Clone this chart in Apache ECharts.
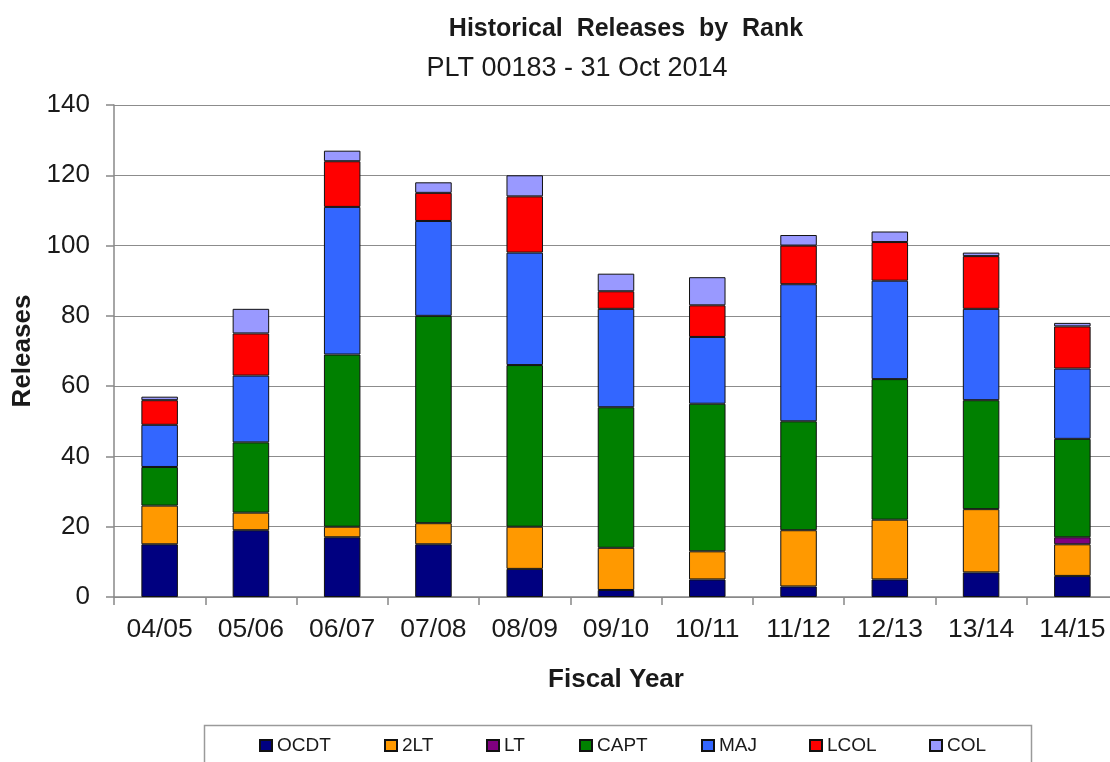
<!DOCTYPE html>
<html>
<head>
<meta charset="utf-8">
<title>Historical Releases by Rank</title>
<script src="https://cdn.jsdelivr.net/npm/echarts@6/dist/echarts.min.js"></script>
<style>
  html, body { margin: 0; padding: 0; background: #fff; }
  #chart { width: 1110px; height: 762px; }
</style>
</head>
<body>
<div id="chart"></div>
<script>
// Fiscal years on the category axis
const years = ['04/05', '05/06', '06/07', '07/08', '08/09', '09/10', '10/11', '11/12', '12/13', '13/14', '14/15'];

// Releases per rank, stacked bottom to top
const ocdt = [15, 19, 17, 15, 8, 2, 5, 3, 5, 7, 6];
const lt2  = [11, 5, 3, 6, 12, 12, 8, 16, 17, 18, 9];
const lt   = [0, 0, 0, 0, 0, 0, 0, 0, 0, 0, 2];
const capt = [11, 20, 49, 59, 46, 40, 42, 31, 40, 31, 28];
const maj  = [12, 19, 42, 27, 32, 28, 19, 39, 28, 26, 20];
const lcol = [7, 12, 13, 8, 16, 5, 9, 11, 11, 15, 12];
const col  = [1, 7, 3, 3, 6, 5, 8, 3, 3, 1, 1];

// Value axis ticks
const yMin = 0, yMax = 140, yStep = 20;

const ranks = [
  { name: 'OCDT', data: ocdt, color: '#000080' },
  { name: '2LT',  data: lt2,  color: '#FF9900' },
  { name: 'LT',   data: lt,   color: '#800080' },
  { name: 'CAPT', data: capt, color: '#008000' },
  { name: 'MAJ',  data: maj,  color: '#3366FF' },
  { name: 'LCOL', data: lcol, color: '#FF0000' },
  { name: 'COL',  data: col,  color: '#9999FF' }
];

// Legend entry x positions (one legend block per rank)
const legendLeft = [259, 384, 486, 579, 701, 809, 929];

const FONT = "'Liberation Sans', Arial, sans-serif";
const TEXT = '#1a1a1a';

const chart = echarts.init(document.getElementById('chart'), null, { renderer: 'canvas' });

const option = {
  backgroundColor: '#ffffff',
  animation: false,
  color: ranks.map(r => r.color),
  title: [
    {
      text: 'Historical  Releases  by  Rank',
      left: 621, top: 12, textAlign: 'center',
      textStyle: { fontFamily: FONT, fontSize: 25, fontWeight: 'bold', color: TEXT }
    },
    {
      text: 'PLT 00183 - 31 Oct 2014',
      left: 572, top: 50, textAlign: 'center',
      textStyle: { fontFamily: FONT, fontSize: 27, fontWeight: 'normal', color: TEXT }
    }
  ],
  legend: ranks.map((r, i) => ({
    data: [r.name],
    left: legendLeft[i],
    top: 736,
    padding: 0,
    itemWidth: 12,
    itemHeight: 11,
    icon: 'rect',
    selectedMode: false,
    textStyle: { fontFamily: FONT, fontSize: 19, color: TEXT }
  })),
  graphic: [
    {
      type: 'rect',
      shape: { x: 204.5, y: 725.5, width: 827, height: 60 },
      style: { fill: null, stroke: '#9a9a9a', lineWidth: 1.5 },
      silent: true
    }
  ],
  // plot area runs slightly past the right edge of the canvas
  grid: { left: 114, top: 105, width: 1004, height: 492, containLabel: false, outerBoundsMode: 'none' },
  xAxis: {
    type: 'category',
    data: years,
    name: 'Fiscal Year',
    nameLocation: 'middle',
    nameGap: 70,
    nameTextStyle: { fontFamily: FONT, fontSize: 26, fontWeight: 'bold', color: TEXT },
    axisLine: { lineStyle: { color: '#888', width: 1.5 } },
    axisTick: { show: true, length: 8, lineStyle: { color: '#888', width: 1.5 } },
    axisLabel: { fontFamily: FONT, fontSize: 26.5, color: TEXT, margin: 19, hideOverlap: false },
    splitLine: { show: false }
  },
  yAxis: {
    type: 'value',
    min: yMin, max: yMax, interval: yStep,
    name: 'Releases',
    nameLocation: 'middle',
    nameGap: 77,
    nameTextStyle: { fontFamily: FONT, fontSize: 26, fontWeight: 'bold', color: TEXT },
    axisLine: { show: true, lineStyle: { color: '#888', width: 1.5 } },
    axisTick: { show: true, length: 8, lineStyle: { color: '#888', width: 1.5 } },
    axisLabel: { fontFamily: FONT, fontSize: 26, color: TEXT, margin: 24 },
    splitLine: { show: true, lineStyle: { color: '#8c8c8c', width: 1.2 } }
  },
  series: ranks.map(r => ({
    name: r.name,
    type: 'bar',
    stack: 'rank',
    barWidth: '40%',
    data: r.data.map(v => (v === 0 ? '-' : v)),
    itemStyle: { color: r.color, borderColor: '#111', borderWidth: 1 },
    emphasis: { disabled: true }
  }))
};

chart.setOption(option);
</script>
</body>
</html>
